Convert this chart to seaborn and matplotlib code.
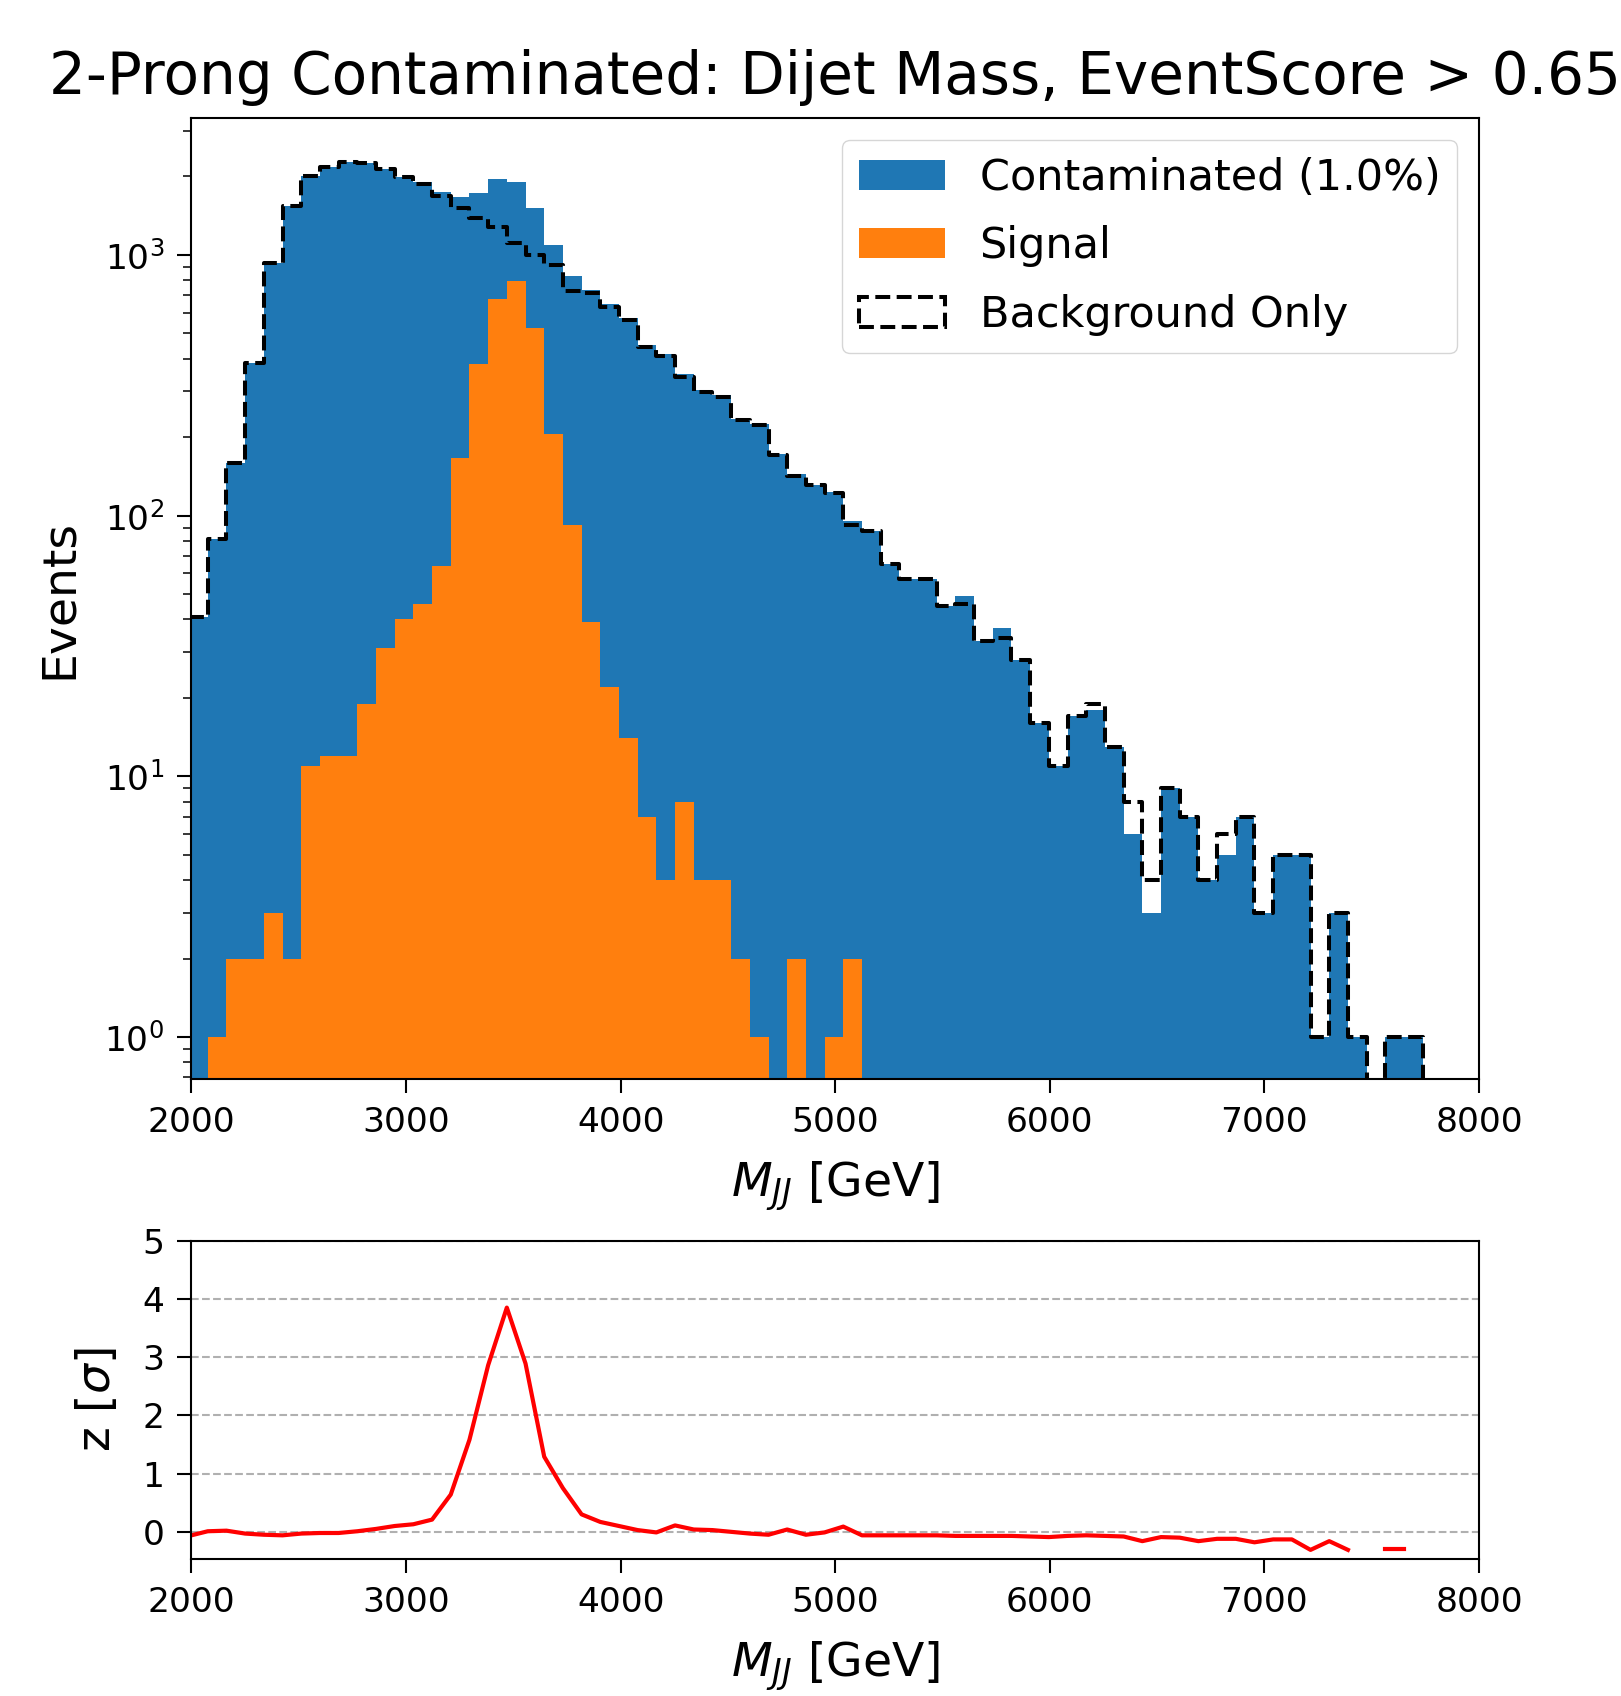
import numpy as np
import pandas as pd
import seaborn as sns
import matplotlib.pyplot as plt
from matplotlib.patches import Patch

# dijet mass binning [GeV], 70 bins
mjj_edges = np.linspace(1989, 8086, 71)

contaminated = [41, 81, 159, 384, 929, 1542, 2000, 2183, 2282, 2248,
                2133, 1995, 1900, 1740, 1675, 1735, 1950, 1910, 1510, 1092,
                833, 735, 650, 575, 452, 415, 349, 303, 290, 235,
                224, 173, 145, 131, 123, 95, 87, 65, 57, 57,
                45, 49, 33, 37, 28, 16, 11, 17, 18, 13,
                6, 3, 9, 7, 4, 5, 7, 3, 5, 5,
                1, 3, 1, 0, 1, 1, 0, 0, 0, 0]
signal = [0, 1, 2, 2, 3, 2, 11, 12, 12, 19,
          31, 40, 46, 64, 167, 381, 676, 791, 526, 206,
          92, 39, 22, 14, 7, 4, 8, 4, 4, 2,
          1, 0, 2, 0, 1, 2, 0, 0, 0, 0,
          0, 0, 0, 0, 0, 0, 0, 0, 0, 0,
          0, 0, 0, 0, 0, 0, 0, 0, 0, 0,
          0, 0, 0, 0, 0, 0, 0, 0, 0, 0]
background = [41, 81, 159, 384, 929, 1542, 2000, 2183, 2282, 2248,
              2133, 1995, 1865, 1690, 1510, 1383, 1285, 1108, 1000, 916,
              730, 713, 634, 563, 445, 411, 341, 299, 286, 233,
              223, 171, 142, 131, 122, 92, 87, 65, 57, 57,
              45, 46, 33, 34, 28, 16, 11, 17, 19, 13,
              8, 4, 9, 7, 4, 6, 7, 3, 5, 5,
              1, 3, 1, 0, 1, 1, 0, 0, 0, 0]
nan = np.nan
z_score = [-0.07, 0.01, 0.02, -0.03, -0.05, -0.06, -0.03, -0.02, -0.02, 0.01,
           0.05, 0.10, 0.13, 0.21, 0.64, 1.58, 2.86, 3.85, 2.89, 1.29,
           0.75, 0.30, 0.17, 0.10, 0.03, -0.01, 0.11, 0.04, 0.03, 0.00,
           -0.03, -0.05, 0.04, -0.05, -0.01, 0.09, -0.06, -0.06, -0.06, -0.06,
           -0.06, -0.07, -0.07, -0.07, -0.07, -0.08, -0.09, -0.07, -0.06, -0.07,
           -0.08, -0.16, -0.09, -0.10, -0.16, -0.12, -0.12, -0.18, -0.13, -0.13,
           -0.31, -0.16, -0.31, nan, -0.30, -0.30, nan, nan, nan, nan]

c_blue = "#1f77b4"
c_orange = "#ff7f0e"

plt.rcParams.update({
    "axes.linewidth": 1.5,
    "xtick.major.size": 10, "ytick.major.size": 10,
    "xtick.major.width": 1.5, "ytick.major.width": 1.5,
    "ytick.minor.size": 5.5, "ytick.minor.width": 1.1,
    "xtick.major.pad": 9.5, "ytick.major.pad": 9.5,
    "ytick.minor.pad": 9.5,
    "xtick.labelsize": 24.8, "ytick.labelsize": 24.8,
    "axes.labelpad": 14,
})

bins = list(mjj_edges)
centers = (mjj_edges[:-1] + mjj_edges[1:]) / 2
df = pd.DataFrame({"mjj": centers, "contaminated": contaminated,
                   "signal": signal, "background": background})

fig = plt.figure(figsize=(16.21, 16.96), dpi=100)
ax1 = fig.add_axes([0.1181, 0.3638, 0.7943, 0.5666])
ax2 = fig.add_axes([0.1181, 0.0810, 0.7943, 0.1875])

sns.histplot(data=df, x="mjj", weights="contaminated", bins=bins,
             element="step", fill=True, color=c_blue, alpha=1, linewidth=0, ax=ax1)
sns.histplot(data=df, x="mjj", weights="signal", bins=bins,
             element="step", fill=True, color=c_orange, alpha=1, linewidth=0, ax=ax1)
sns.histplot(data=df, x="mjj", weights="background", bins=bins,
             element="step", fill=False, color="black", linestyle="--",
             linewidth=2.9, ax=ax1)
ax1.set_yscale("log")
ax1.set_xlim(2000, 8000)
ax1.set_ylim(0.69, 3350)
ax1.set_xticks(range(2000, 8001, 1000))
ax1.set_xlabel("$M_{JJ}$ [GeV]", fontsize=34, labelpad=15)
ax1.set_ylabel("Events", fontsize=34, labelpad=16)
ax1.set_title("2-Prong Contaminated: Dijet Mass, EventScore > 0.65",
              fontsize=41.8, pad=17)

handles = [Patch(facecolor=c_blue, label="Contaminated (1.0%)"),
           Patch(facecolor=c_orange, label="Signal"),
           Patch(facecolor="none", edgecolor="black", linestyle="--",
                 linewidth=2.9, label="Background Only")]
ax1.legend(handles=handles, loc="upper right", fontsize=31, labelspacing=0.62)

# significance panel, gaps where the background is empty
zdf = pd.DataFrame({"mjj": mjj_edges[:-1], "z": z_score})
zdf["seg"] = zdf["z"].isna().cumsum()
zdf = zdf.dropna()
sns.lineplot(data=zdf, x="mjj", y="z", units="seg", estimator=None,
             color="red", linewidth=3, ax=ax2)
ax2.set_xlim(2000, 8000)
ax2.set_ylim(-0.46, 5)
ax2.set_xticks(range(2000, 8001, 1000))
ax2.set_yticks(range(0, 6))
ax2.grid(axis="y", linestyle="--", color="#b0b0b0", linewidth=1.5)
ax2.set_xlabel("$M_{JJ}$ [GeV]", fontsize=34, labelpad=15)
ax2.set_ylabel("z [$\\sigma$]", fontsize=34, labelpad=16)

fig.savefig("out.png", dpi=100)
